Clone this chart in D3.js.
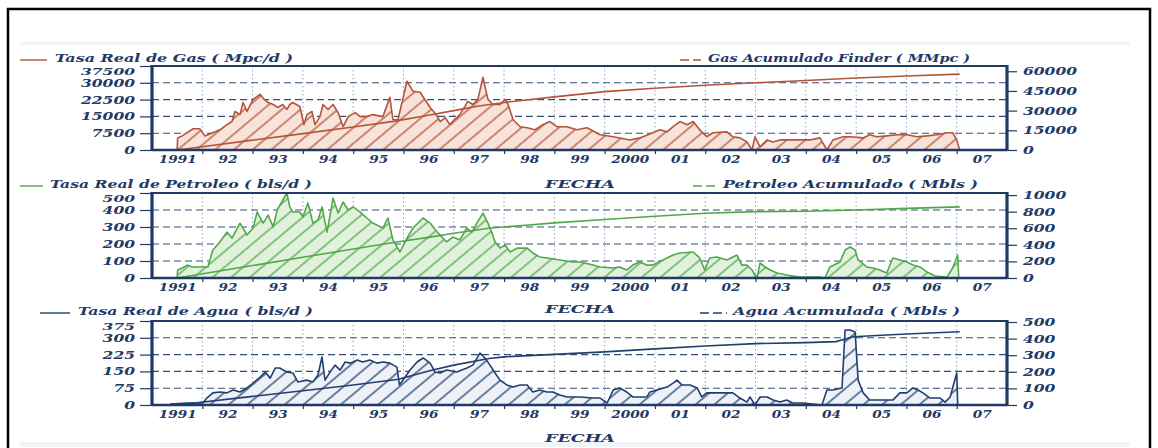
<!DOCTYPE html>
<html>
<head>
<meta charset="utf-8">
<script src="https://cdn.jsdelivr.net/npm/d3@7"></script>
<style>
  body { margin: 0; background: #fff; }
  svg { display: block; }
  text { font-family: "DejaVu Serif", serif; font-weight: bold; font-style: italic; fill: #1f3a66; }
</style>
</head>
<body>
<script>
const width = 1158;
const height = 448;
const plotLeft = 152;
const plotRight = 1007;

const yearTicks = d3.range(1991, 2008);
const yearLabels = ["1991", "92", "93", "94", "95", "96", "97", "98", "99", "2000", "01", "02", "03", "04", "05", "06", "07"];

// Tasa real de gas (Mpc/d)
const gasYears = [
  1991.50, 1991.51, 1991.60, 1991.82, 1991.95, 1992.05, 1992.21, 1992.35, 1992.49, 1992.59,
  1992.65, 1992.75, 1992.81, 1992.89, 1993.01, 1993.15, 1993.23, 1993.31, 1993.41, 1993.50,
  1993.60, 1993.68, 1993.74, 1993.80, 1993.94, 1994.02, 1994.08, 1994.18, 1994.24, 1994.34,
  1994.40, 1994.50, 1994.60, 1994.70, 1994.80, 1994.90, 1995.04, 1995.14, 1995.27, 1995.39,
  1995.59, 1995.73, 1995.79, 1995.89, 1996.07, 1996.19, 1996.33, 1996.53, 1996.65, 1996.73,
  1996.83, 1996.92, 1997.12, 1997.28, 1997.38, 1997.48, 1997.58, 1997.68, 1997.78, 1997.92,
  1998.02, 1998.08, 1998.18, 1998.32, 1998.46, 1998.61, 1998.77, 1998.91, 1999.05, 1999.25,
  1999.45, 1999.65, 1999.91, 2000.17, 2000.50, 2000.70, 2000.96, 2001.10, 2001.24, 2001.36,
  2001.50, 2001.64, 2001.76, 2001.89, 2002.03, 2002.15, 2002.43, 2002.55, 2002.69, 2002.83,
  2002.93, 2002.99, 2003.09, 2003.23, 2003.35, 2003.49, 2003.62, 2004.08, 2004.28, 2004.42,
  2004.54, 2004.74, 2004.88, 2005.14, 2005.27, 2005.41, 2005.61, 2005.81, 2006.01, 2006.21,
  2006.41, 2006.61, 2006.81, 2006.92, 2007.00, 2007.06
];
const gasRate = [
  0, 5400, 6300, 9500, 9500, 6300, 7700, 9000, 11300, 12700,
  17200, 15800, 21200, 17200, 22600, 24900, 22600, 21200, 20300, 19000,
  20300, 18100, 20300, 21200, 19400, 11300, 15800, 17200, 11300, 14900,
  20300, 18100, 20300, 16700, 10400, 14900, 16700, 14900, 14900, 15800,
  14900, 23500, 13500, 13500, 30700, 26200, 25800, 19000, 15800, 12700,
  14500, 11300, 15800, 21700, 20300, 22600, 32500, 22600, 20300, 20300,
  22600, 20300, 13500, 10400, 9900, 9000, 11300, 12700, 10400, 10400,
  9000, 9900, 6800, 5900, 4500, 5400, 7700, 9000, 8100, 10400,
  12700, 11300, 12700, 9000, 5900, 7700, 8100, 5900, 5400, 3600,
  0, 5900, 1400, 4500, 3600, 4500, 4500, 4500, 5400, 0,
  4500, 5900, 5900, 5400, 6800, 5900, 6300, 6800, 6800, 5900,
  6300, 6800, 7700, 7700, 4500, 0
];
// Gas acumulado Finder (MMpc)
const gasCumYears = [1991.5, 1992, 1993, 1994, 1995, 1995.8, 1996.5, 1997, 1997.5, 1998, 1999, 2000, 2001, 2002, 2003, 2004, 2005, 2006, 2007.06];
const gasCum = [0, 2500, 7500, 12500, 17500, 21800, 26500, 30000, 33500, 36200, 40500, 44500, 47000, 49300, 51200, 53000, 54800, 56400, 57800];
const gasLeftTicks = [0, 7500, 15000, 22500, 30000, 37500];
const gasRightTicks = [0, 15000, 30000, 45000, 60000];

// Tasa real de petroleo (bls/d)
const oilYears = [
  1991.50, 1991.51, 1991.60, 1991.70, 1991.80, 1991.89, 1992.01, 1992.11, 1992.21, 1992.35,
  1992.49, 1992.59, 1992.75, 1992.89, 1993.01, 1993.09, 1993.21, 1993.31, 1993.41, 1993.49,
  1993.68, 1993.74, 1993.80, 1993.94, 1994.00, 1994.10, 1994.20, 1994.30, 1994.38, 1994.48,
  1994.60, 1994.70, 1994.80, 1994.90, 1995.00, 1995.14, 1995.27, 1995.39, 1995.59, 1995.69,
  1995.79, 1995.93, 1996.07, 1996.19, 1996.39, 1996.53, 1996.67, 1996.86, 1996.98, 1997.12,
  1997.26, 1997.36, 1997.46, 1997.58, 1997.68, 1997.76, 1997.82, 1997.92, 1998.02, 1998.12,
  1998.26, 1998.46, 1998.57, 1998.71, 1998.85, 1999.11, 1999.37, 1999.51, 1999.77, 1999.91,
  2000.17, 2000.30, 2000.44, 2000.56, 2000.70, 2000.84, 2000.96, 2001.16, 2001.36, 2001.50,
  2001.76, 2001.89, 2001.99, 2002.09, 2002.23, 2002.43, 2002.63, 2002.73, 2002.83, 2002.93,
  2003.03, 2003.09, 2003.19, 2003.29, 2003.43, 2003.62, 2003.88, 2004.28, 2004.38, 2004.48,
  2004.68, 2004.78, 2004.88, 2004.98, 2005.04, 2005.21, 2005.33, 2005.47, 2005.61, 2005.73,
  2005.87, 2006.01, 2006.13, 2006.27, 2006.41, 2006.57, 2006.81, 2006.92, 2007.02, 2007.04
];
const oilRate = [
  0, 47, 59, 76, 65, 65, 65, 65, 165, 212,
  270, 235, 323, 253, 294, 388, 323, 370, 300, 400,
  500, 418, 388, 388, 359, 441, 323, 341, 418, 270,
  470, 382, 447, 400, 418, 388, 353, 323, 294, 353,
  224, 153, 235, 294, 353, 323, 270, 212, 241, 224,
  294, 270, 323, 382, 323, 265, 212, 176, 194, 153,
  176, 176, 147, 124, 118, 106, 94, 94, 76, 65,
  59, 65, 47, 76, 94, 76, 76, 106, 135, 147,
  153, 118, 47, 118, 124, 106, 135, 76, 76, 47,
  0, 88, 65, 47, 29, 18, 6, 6, 0, 65,
  94, 165, 182, 165, 106, 65, 59, 47, 29, 118,
  106, 94, 76, 65, 35, 12, 6, 59, 135, 0
];
// Petroleo acumulado (Mbls)
const oilCumYears = [1991.5, 1993, 1994, 1995, 1995.9, 1996.5, 1997, 1997.7, 1998.5, 1999, 2000, 2001, 2002, 2003, 2004, 2005, 2006, 2007.06];
const oilCum = [0, 150, 250, 350, 438, 490, 540, 600, 640, 665, 705, 745, 780, 800, 805, 820, 840, 858];
const oilLeftTicks = [0, 100, 200, 300, 400, 500];
const oilRightTicks = [0, 200, 400, 600, 800, 1000];

// Tasa real de agua (bls/d)
const waterYears = [
  1991.36, 1991.70, 1992.01, 1992.09, 1992.21, 1992.35, 1992.49, 1992.61, 1992.75, 1992.89,
  1993.01, 1993.15, 1993.25, 1993.35, 1993.45, 1993.54, 1993.68, 1993.80, 1993.90, 1994.08,
  1994.20, 1994.30, 1994.38, 1994.44, 1994.54, 1994.64, 1994.74, 1994.84, 1994.94, 1995.08,
  1995.19, 1995.33, 1995.47, 1995.59, 1995.73, 1995.87, 1995.92, 1996.13, 1996.27, 1996.39,
  1996.53, 1996.63, 1996.73, 1996.86, 1997.06, 1997.26, 1997.38, 1997.52, 1997.62, 1997.72,
  1997.82, 1997.92, 1998.06, 1998.18, 1998.32, 1998.46, 1998.57, 1998.71, 1998.85, 1998.97,
  1999.11, 1999.25, 1999.51, 1999.77, 1999.91, 2000.05, 2000.17, 2000.30, 2000.44, 2000.56,
  2000.84, 2000.90, 2001.04, 2001.24, 2001.36, 2001.44, 2001.54, 2001.70, 2001.84, 2001.93,
  2002.03, 2002.43, 2002.55, 2002.69, 2002.83, 2002.89, 2002.99, 2003.09, 2003.23, 2003.35,
  2003.49, 2003.62, 2003.74, 2003.94, 2004.32, 2004.42, 2004.54, 2004.72, 2004.78, 2004.88,
  2004.98, 2005.04, 2005.14, 2005.27, 2005.73, 2005.87, 2006.01, 2006.13, 2006.23, 2006.33,
  2006.47, 2006.67, 2006.77, 2006.87, 2007.00, 2007.02
];
const waterRate = [
  4, 9, 9, 31, 54, 58, 54, 67, 58, 76,
  98, 125, 147, 120, 165, 165, 147, 143, 103, 111,
  103, 134, 214, 111, 147, 178, 156, 192, 187, 201,
  192, 201, 187, 192, 187, 169, 89, 156, 192, 210,
  187, 147, 143, 156, 147, 165, 178, 232, 210, 178,
  143, 111, 89, 80, 89, 89, 58, 67, 58, 58,
  45, 36, 36, 31, 31, 9, 67, 76, 58, 36,
  36, 58, 67, 80, 98, 111, 89, 89, 76, 36,
  54, 54, 54, 31, 13, 36, 0, 36, 36, 22,
  13, 22, 9, 9, 0, 67, 67, 76, 335, 335,
  326, 111, 54, 22, 22, 54, 54, 76, 67, 54,
  31, 31, 13, 36, 143, 0
];
// Agua acumulada (Mbls)
const waterCumYears = [1991.5, 1993, 1994, 1995, 1995.9, 1996.5, 1997, 1997.7, 1998, 1999, 2000, 2001, 2002, 2003, 2004, 2004.6, 2004.95, 2005.5, 2006, 2007.06];
const waterCum = [0, 52, 86, 120, 155, 205, 240, 280, 290, 305, 320, 338, 355, 370, 376, 382, 411, 420, 428, 441];
const waterLeftTicks = [0, 75, 150, 225, 300, 375];
const waterRightTicks = [0, 100, 200, 300, 400, 500];

const navy = "#1f3a66";

const svg = d3
  .select("body")
  .append("svg")
  .attr("width", width)
  .attr("height", height);

const defs = svg.append("defs");

const xScale = d3.scaleLinear().domain([1991, 2008]).range([plotLeft, plotRight]);

// outer page frame + faint scan bands
svg.append("rect").attr("x", 20).attr("y", 42).attr("width", 1110).attr("height", 3).attr("fill", "#f3f5f9");
svg.append("rect").attr("x", 20).attr("y", 442).attr("width", 1110).attr("height", 5).attr("fill", "#f1f4f8");
svg
  .append("rect")
  .attr("x", 8)
  .attr("y", 9)
  .attr("width", 1142)
  .attr("height", 450)
  .attr("fill", "none")
  .attr("stroke", "#000")
  .attr("stroke-width", 2.5);

const makeHatch = (id, color) => {
  const p = defs
    .append("pattern")
    .attr("id", id)
    .attr("patternUnits", "userSpaceOnUse")
    .attr("width", 12)
    .attr("height", 12)
    .attr("patternTransform", "rotate(50)");
  p.append("line")
    .attr("x1", 1).attr("y1", 0)
    .attr("x2", 1).attr("y2", 12)
    .attr("stroke", color)
    .attr("stroke-width", 1.3);
};

const stretch = (sel, perChar) => {
  sel
    .attr("textLength", function () {
      return this.textContent.length * perChar;
    })
    .attr("lengthAdjust", "spacingAndGlyphs");
};

const drawPanel = (p) => {
  const yScale = d3.scaleLinear().domain([0, p.leftMax]).range([p.bottom, p.top]);
  const y2Scale = d3.scaleLinear().domain([0, p.rightMax]).range([p.bottom, p.top]);
  const g = svg.append("g");

  makeHatch(p.id + "-hatch", p.color);

  // grid
  g.selectAll(".vgrid")
    .data(yearTicks.slice(1))
    .join("line")
    .attr("x1", (d) => xScale(d))
    .attr("x2", (d) => xScale(d))
    .attr("y1", p.top)
    .attr("y2", p.bottom)
    .attr("stroke", "#8ea2c2")
    .attr("stroke-width", 1)
    .attr("stroke-dasharray", "1.5,2.5");

  g.selectAll(".hgrid")
    .data(p.leftTicks.filter((v) => v > 0 && v < p.leftMax))
    .join("line")
    .attr("x1", plotLeft)
    .attr("x2", plotRight)
    .attr("y1", (d) => yScale(d))
    .attr("y2", (d) => yScale(d))
    .attr("stroke", "#34507a")
    .attr("stroke-width", 1.1)
    .attr("stroke-dasharray", "7,4");

  const pts = p.rateX.map((t, i) => [t, p.rateY[i]]);
  const area = d3
    .area()
    .x((d) => xScale(d[0]))
    .y0(p.bottom)
    .y1((d) => yScale(d[1]));
  const line = d3
    .line()
    .x((d) => xScale(d[0]))
    .y((d) => yScale(d[1]));

  g.append("path").datum(pts).attr("d", area).attr("fill", p.tint);
  g.append("path").datum(pts).attr("d", area).attr("fill", `url(#${p.id}-hatch)`);
  g.append("path")
    .datum(pts)
    .attr("d", line)
    .attr("fill", "none")
    .attr("stroke", p.color)
    .attr("stroke-width", 1.6)
    .attr("stroke-linejoin", "round");

  const cumPts = p.cumX.map((t, i) => [t, p.cumY[i]]);
  g.append("path")
    .datum(cumPts)
    .attr("d", d3.line().x((d) => xScale(d[0])).y((d) => y2Scale(d[1])))
    .attr("fill", "none")
    .attr("stroke", p.color)
    .attr("stroke-width", 1.6);

  // frame
  g.append("rect")
    .attr("x", plotLeft)
    .attr("y", p.top)
    .attr("width", plotRight - plotLeft)
    .attr("height", p.bottom - p.top)
    .attr("fill", "none")
    .attr("stroke", navy)
    .attr("stroke-width", 2);
  [plotLeft, plotRight].forEach((x) => {
    g.append("line")
      .attr("x1", x).attr("x2", x)
      .attr("y1", p.top - 1).attr("y2", p.bottom + 1)
      .attr("stroke", navy)
      .attr("stroke-width", 3.2);
  });
  g.append("line")
    .attr("x1", plotLeft).attr("x2", plotRight)
    .attr("y1", p.bottom).attr("y2", p.bottom)
    .attr("stroke", navy)
    .attr("stroke-width", 2.6);

  // axes
  const leftAxis = g
    .append("g")
    .attr("transform", `translate(${plotLeft},0)`)
    .call(d3.axisLeft(yScale).tickValues(p.leftTicks).tickSize(12).tickPadding(5).tickFormat(d3.format("d")));
  const rightAxis = g
    .append("g")
    .attr("transform", `translate(${plotRight},0)`)
    .call(d3.axisRight(y2Scale).tickValues(p.rightTicks).tickSize(10).tickPadding(6).tickFormat(d3.format("d")));
  const xTicks = g
    .append("g")
    .attr("transform", `translate(0,${p.bottom})`)
    .call(d3.axisBottom(xScale).tickValues(yearTicks.slice(1)).tickSize(4).tickFormat(""));
  const xLabels = g
    .append("g")
    .attr("transform", `translate(0,${p.bottom})`)
    .call(
      d3
        .axisBottom(xScale)
        .tickValues(yearTicks.map((v) => v + 0.5))
        .tickSize(0)
        .tickPadding(5)
        .tickFormat((d, i) => yearLabels[i])
    );

  [leftAxis, rightAxis, xTicks, xLabels].forEach((a) => {
    a.select(".domain").remove();
    a.selectAll("line").attr("stroke", navy).attr("stroke-width", 1.2);
    a.selectAll("text").attr("fill", navy).style("font-size", "11px");
  });
  stretch(leftAxis.selectAll("text"), 10.8);
  stretch(rightAxis.selectAll("text"), 10.8);
  stretch(xLabels.selectAll("text"), 9.5);
  // top left label sits just under the series title, as in the scan
  leftAxis
    .selectAll(".tick")
    .filter((d) => d === p.leftMax)
    .select("text")
    .attr("y", 5)
    .style("font-size", "10px");

  // legend entries
  g.append("line")
    .attr("x1", p.legL[0]).attr("x2", p.legL[1])
    .attr("y1", p.legY).attr("y2", p.legY)
    .attr("stroke", p.color)
    .attr("stroke-width", 1.4);
  g.append("text")
    .attr("x", p.legL[2])
    .attr("y", p.legY + 2)
    .attr("textLength", p.legL[3])
    .attr("lengthAdjust", "spacingAndGlyphs")
    .style("font-size", "11px")
    .text(p.leftTitle);

  g.append("line")
    .attr("x1", p.legR[0]).attr("x2", p.legR[1])
    .attr("y1", p.legY).attr("y2", p.legY)
    .attr("stroke", p.color)
    .attr("stroke-width", 1.4)
    .attr("stroke-dasharray", "9,4");
  g.append("text")
    .attr("x", p.legR[2])
    .attr("y", p.legY + 2)
    .attr("textLength", p.legR[3])
    .attr("lengthAdjust", "spacingAndGlyphs")
    .style("font-size", "11px")
    .text(p.rightTitle);

  g.append("text")
    .attr("x", 580)
    .attr("y", p.fechaY)
    .attr("text-anchor", "middle")
    .attr("textLength", 70)
    .attr("lengthAdjust", "spacingAndGlyphs")
    .style("font-size", "11px")
    .text("FECHA");
};

drawPanel({
  id: "gas",
  top: 66,
  bottom: 150,
  color: "#b4543a",
  tint: "#f7e3da",
  rateX: gasYears,
  rateY: gasRate,
  cumX: gasCumYears,
  cumY: gasCum,
  leftMax: 37500,
  leftTicks: gasLeftTicks,
  rightMax: 64000,
  rightTicks: gasRightTicks,
  leftTitle: "Tasa Real de Gas ( Mpc/d )",
  rightTitle: "Gas Acumulado Finder ( MMpc )",
  legY: 60,
  legL: [20, 47, 55, 238],
  legR: [680, 701, 708, 262],
  fechaY: 188,
});

drawPanel({
  id: "oil",
  top: 193,
  bottom: 278,
  color: "#4fa84a",
  tint: "#e2f1dc",
  rateX: oilYears,
  rateY: oilRate,
  cumX: oilCumYears,
  cumY: oilCum,
  leftMax: 500,
  leftTicks: oilLeftTicks,
  rightMax: 1025,
  rightTicks: oilRightTicks,
  leftTitle: "Tasa Real de Petroleo ( bls/d )",
  rightTitle: "Petroleo Acumulado ( Mbls )",
  legY: 186,
  legL: [20, 43, 50, 262],
  legR: [693, 717, 723, 255],
  fechaY: 313,
});

drawPanel({
  id: "water",
  top: 321,
  bottom: 405,
  color: "#213f6d",
  tint: "#eef1f7",
  rateX: waterYears,
  rateY: waterRate,
  cumX: waterCumYears,
  cumY: waterCum,
  leftMax: 375,
  leftTicks: waterLeftTicks,
  rightMax: 506,
  rightTicks: waterRightTicks,
  leftTitle: "Tasa Real de Agua ( bls/d )",
  rightTitle: "Agua Acumulada ( Mbls )",
  legY: 313,
  legL: [40, 70, 78, 235],
  legR: [700, 727, 733, 227],
  fechaY: 442,
});
</script>
</body>
</html>
